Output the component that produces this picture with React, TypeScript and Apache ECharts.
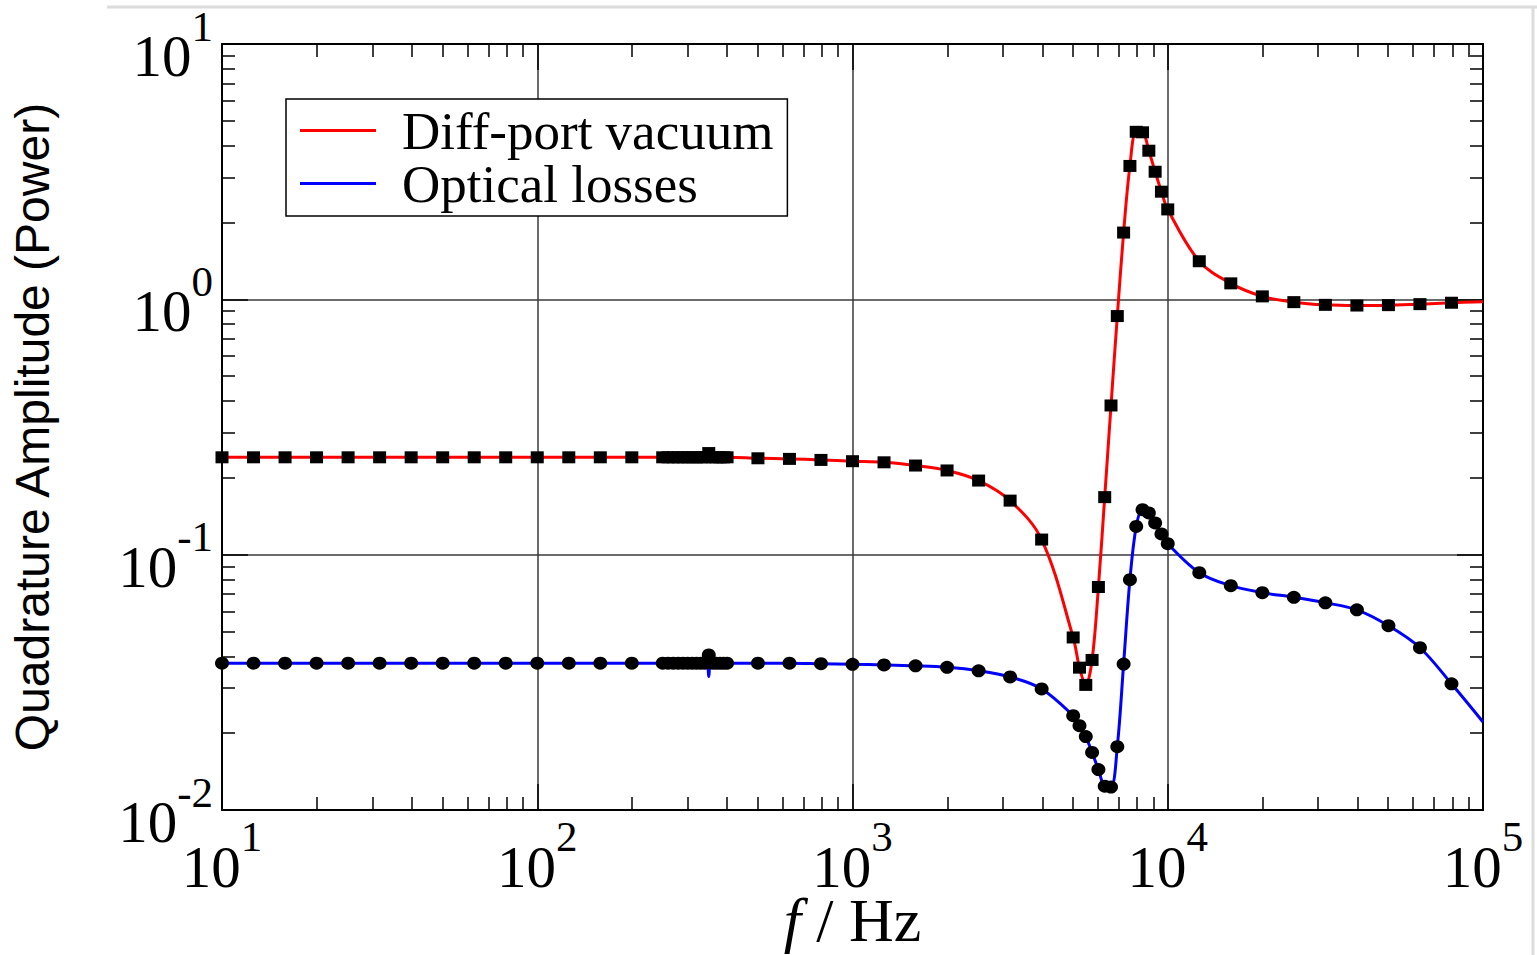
import React, { useEffect, useRef } from 'react';
import * as echarts from 'echarts';

const FONT_SERIF = "'Liberation Serif', 'Times New Roman', serif";
const FONT_SANS = "'Liberation Sans', Arial, sans-serif";

// Decade exponents of the axes (tick labels are 10^exp)
const xTickExps = [1, 2, 3, 4, 5];
const yTickExps = [-2, -1, 0, 1];

const seriesNames = ['Diff-port vacuum', 'Optical losses'];

// Simulated points (markers)
const markerFreqs = [
  10, 12.59, 15.85, 19.95, 25.12, 31.62, 39.81, 50.12, 63.1, 79.43, 100, 125.9, 158.5, 199.5,
  250, 260, 270, 280, 290, 300, 310, 320, 330, 340, 350, 360, 370, 380, 390, 400,
  501.2, 631, 794.3, 1000, 1259, 1585, 1995, 2512, 3162, 3981,
  5012, 5248, 5495, 5754, 6026, 6310, 6607, 6918, 7244, 7586, 7943, 8318, 8710, 9120, 9550, 10000,
  12589, 15849, 19953, 25119, 31623, 39811, 50119, 63096, 79433,
];

const redMarkers = [
  0.2406, 0.2406, 0.2406, 0.2406, 0.2406, 0.2406, 0.2406, 0.2406, 0.2406, 0.2406, 0.2406, 0.2406, 0.2406, 0.2406,
  0.2406, 0.2406, 0.2406, 0.2406, 0.2406, 0.2406, 0.2406, 0.2406, 0.2406, 0.2406, 0.250, 0.2406, 0.2406, 0.2406, 0.2406, 0.2406,
  0.2385, 0.2372, 0.2350, 0.2323, 0.2300, 0.2234, 0.2137, 0.1951, 0.1628, 0.1146,
  0.0474, 0.0361, 0.0309, 0.0387, 0.0747, 0.168, 0.384, 0.860, 1.826, 3.33, 4.53, 4.51, 3.82, 3.16, 2.64, 2.25,
  1.41, 1.155, 1.027, 0.975, 0.9515, 0.9456, 0.949, 0.9576, 0.9698,
];

const blueMarkers = [
  0.0376, 0.0376, 0.0376, 0.0376, 0.0376, 0.0376, 0.0376, 0.0376, 0.0376, 0.0376, 0.0376, 0.0376, 0.0376, 0.0376,
  0.0376, 0.0376, 0.0376, 0.0376, 0.0376, 0.0376, 0.0376, 0.0376, 0.0376, 0.0376, 0.0405, 0.0376, 0.0376, 0.0376, 0.0376, 0.0376,
  0.0376, 0.0376, 0.0374, 0.0372, 0.0370, 0.0367, 0.0362, 0.0351, 0.0332, 0.0298,
  0.0234, 0.0214, 0.0194, 0.0168, 0.0144, 0.0124, 0.0123, 0.0177, 0.0373, 0.0798, 0.129, 0.150, 0.1457, 0.1332, 0.1206, 0.1104,
  0.0850, 0.0756, 0.0710, 0.0681, 0.0648, 0.0608, 0.0527, 0.0432, 0.0312,
];

// Model curves (lines)
const curveFreqs = [
  10, 100, 200, 300, 345, 350, 355, 400,
  501.2, 631, 794.3, 1000, 1259, 1585, 1995, 2512, 3162, 3981,
  5012, 5248, 5495, 5754, 6026, 6310, 6607, 6918, 7244, 7586, 7943, 8318, 8710, 9120, 9550, 10000,
  12589, 15849, 19953, 25119, 31623, 39811, 50119, 63096, 79433, 100000,
];

const redCurve = [
  0.2406, 0.2406, 0.2406, 0.2406, 0.2406, 0.2406, 0.2406, 0.2406,
  0.2385, 0.2372, 0.2350, 0.2323, 0.2300, 0.2234, 0.2137, 0.1951, 0.1628, 0.1146,
  0.0474, 0.0361, 0.0309, 0.0387, 0.0747, 0.168, 0.384, 0.860, 1.826, 3.33, 4.53, 4.51, 3.82, 3.16, 2.64, 2.25,
  1.41, 1.155, 1.027, 0.975, 0.9515, 0.9456, 0.949, 0.9576, 0.9698, 0.979,
];

const blueCurve = [
  0.0376, 0.0376, 0.0376, 0.0376, 0.0376, 0.0333, 0.0376, 0.0376,
  0.0376, 0.0376, 0.0374, 0.0372, 0.0370, 0.0367, 0.0362, 0.0351, 0.0332, 0.0298,
  0.0234, 0.0214, 0.0194, 0.0168, 0.0144, 0.0124, 0.0123, 0.0177, 0.0373, 0.0798, 0.129, 0.150, 0.1457, 0.1332, 0.1206, 0.1104,
  0.0850, 0.0756, 0.0710, 0.0681, 0.0648, 0.0608, 0.0527, 0.0432, 0.0312, 0.0221,
];

const pairs = (xs: number[], ys: number[]) => xs.map((x, i) => [x, ys[i]]);

const expLabel = (v: number) => `{b|10}{s|${Math.round(Math.log10(v))}}`;

const richLabel = {
  b: { fontFamily: FONT_SERIF, fontSize: 59, lineHeight: 79, padding: [22, 0, 0, 0], verticalAlign: 'top', color: '#000' },
  s: { fontFamily: FONT_SERIF, fontSize: 43, verticalAlign: 'top', color: '#000' },
};

const axisLine = { show: true, onZero: false, lineStyle: { color: '#000', width: 2 } };
const axisTick = { show: true, inside: true, length: 26, lineStyle: { color: '#000', width: 1.5 } };
const minorTick = { show: true, splitNumber: 9, length: 13, lineStyle: { color: '#000', width: 1.5 } };
const splitLine = { show: true, lineStyle: { color: '#3a3a3a', width: 1.5 } };

export default function App() {
  const ref = useRef<HTMLDivElement>(null);

  useEffect(() => {
    if (!ref.current) return;
    const chart = echarts.init(ref.current, undefined, { renderer: 'svg' });
    const xMin = Math.pow(10, xTickExps[0]);
    const xMax = Math.pow(10, xTickExps[xTickExps.length - 1]);
    const yMin = Math.pow(10, yTickExps[0]);
    const yMax = Math.pow(10, yTickExps[yTickExps.length - 1]);

    const option: any = {
      animation: false,
      backgroundColor: '#fff',
      grid: { left: 222, right: 54, top: 44, bottom: 145, containLabel: false, outerBoundsMode: 'none' },
      xAxis: [
        {
          type: 'log', logBase: 10, min: xMin, max: xMax, position: 'bottom',
          axisLine, axisTick, minorTick, splitLine,
          axisLabel: {
            show: true, formatter: expLabel, rich: richLabel, margin: 5,
            align: 'center', verticalAlign: 'top', showMinLabel: true, showMaxLabel: true,
          },
          name: '{i|f} / Hz', nameLocation: 'middle', nameGap: 85, nameMoveOverlap: false,
          nameTextStyle: {
            fontFamily: FONT_SERIF, fontSize: 62, lineHeight: 50, color: '#000',
            rich: { i: { fontFamily: FONT_SERIF, fontSize: 62, lineHeight: 50, fontStyle: 'italic', color: '#000' } },
          },
        },
        {
          type: 'log', logBase: 10, min: xMin, max: xMax, position: 'top',
          axisLine, axisTick, minorTick, splitLine: { show: false }, axisLabel: { show: false },
        },
      ],
      yAxis: [
        {
          type: 'log', logBase: 10, min: yMin, max: yMax, position: 'left',
          axisLine, axisTick, minorTick, splitLine,
          axisLabel: {
            show: true, formatter: expLabel, rich: richLabel, margin: 9,
            align: 'right', verticalAlign: 'middle',
            showMinLabel: true, showMaxLabel: true,
          },
          name: 'Quadrature Amplitude (Power)', nameLocation: 'middle', nameGap: 166, nameRotate: 90,
          nameMoveOverlap: false,
          nameTextStyle: { fontFamily: FONT_SANS, fontSize: 48, color: '#000' },
        },
        {
          type: 'log', logBase: 10, min: yMin, max: yMax, position: 'right',
          axisLine, axisTick, minorTick, splitLine: { show: false }, axisLabel: { show: false },
        },
      ],
      legend: {
        left: 286, top: 99, orient: 'vertical',
        data: [
          { name: seriesNames[0], icon: 'rect' },
          { name: seriesNames[1], icon: 'rect' },
        ],
        itemWidth: 76, itemHeight: 3, itemGap: 0,
        padding: [5, 14, 6, 14],
        backgroundColor: '#fff', borderColor: '#000', borderWidth: 1.5, borderRadius: 0,
        textStyle: { fontFamily: FONT_SERIF, fontSize: 53, color: '#000', lineHeight: 36, padding: [0, 0, 16, 21] },
        selectedMode: false,
      },
      series: [
        {
          name: seriesNames[0], type: 'line', data: pairs(curveFreqs, redCurve),
          color: '#ff0000', showSymbol: false, symbol: 'none', smooth: 0.35,
          lineStyle: { color: '#ff0000', width: 3 }, z: 3, silent: true,
        },
        {
          name: seriesNames[1], type: 'line', data: pairs(curveFreqs, blueCurve),
          color: '#0000ff', showSymbol: false, symbol: 'none', smooth: 0.35,
          lineStyle: { color: '#0000ff', width: 3 }, z: 3, silent: true,
        },
        {
          name: seriesNames[0] + ' (points)', type: 'scatter', data: pairs(markerFreqs, redMarkers),
          symbol: 'rect', symbolSize: [13, 12], itemStyle: { color: '#000', opacity: 1 }, z: 4, silent: true,
        },
        {
          name: seriesNames[1] + ' (points)', type: 'scatter', data: pairs(markerFreqs, blueMarkers),
          symbol: 'circle', symbolSize: [14, 13], itemStyle: { color: '#000', opacity: 1 }, z: 4, silent: true,
        },
      ],
      graphic: [
        { type: 'line', silent: true, shape: { x1: 107, y1: 7, x2: 1537, y2: 7 }, style: { stroke: '#dcdcdc', lineWidth: 3 } },
        { type: 'line', silent: true, shape: { x1: 1533, y1: 7, x2: 1533, y2: 955 }, style: { stroke: '#dcdcdc', lineWidth: 3 } },
      ],
    };

    chart.setOption(option);
    return () => chart.dispose();
  }, []);

  return (
    <div
      ref={ref}
      style={{ position: 'fixed', left: 0, top: 0, width: 1537, height: 955 }}
    />
  );
}
